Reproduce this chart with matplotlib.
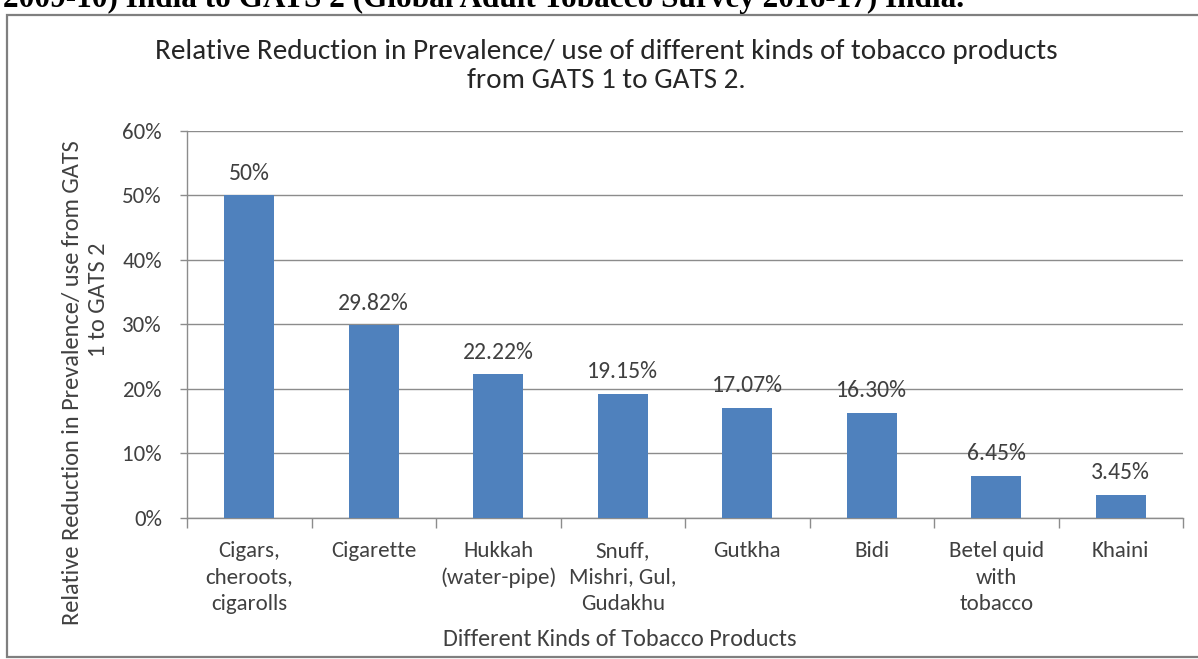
import matplotlib
matplotlib.use("Agg")
import matplotlib.pyplot as plt
from matplotlib import font_manager
from matplotlib.patches import Rectangle
from matplotlib.ticker import FixedLocator, PercentFormatter

categories = [
    "Cigars,\ncheroots,\ncigarolls",
    "Cigarette",
    "Hukkah\n(water-pipe)",
    "Snuff,\nMishri, Gul,\nGudakhu",
    "Gutkha",
    "Bidi",
    "Betel quid\nwith\ntobacco",
    "Khaini",
]
value_labels = ["50%", "29.82%", "22.22%", "19.15%", "17.07%", "16.30%", "6.45%", "3.45%"]
values = [float(s.rstrip("%")) for s in value_labels]
y_ticks = [0, 10, 20, 30, 40, 50, 60]

title = ("Relative Reduction in Prevalence/ use of different kinds of tobacco products\n"
         "from GATS 1 to GATS 2.")
header = "2009-10) India to GATS 2 (Global Adult Tobacco Survey 2016-17) India."
ylabel_lines = ["Relative Reduction in Prevalence/ use from GATS", "1 to GATS 2"]
xlabel = "Different Kinds of Tobacco Products"

# Calibri-like sans if present, otherwise the closest installed humanist face
installed = {f.name for f in font_manager.fontManager.ttflist}
sans = next(n for n in ["Carlito", "Lato", "DejaVu Sans"] if n in installed)
plt.rcParams["font.family"] = sans

BAR = "#4f81bd"
GRID = "#8c8c8c"
TEXT = "#404040"
FS = 16.5

W, H = 1198, 659
fig = plt.figure(figsize=(W / 100, H / 100), dpi=100, facecolor="white")

# chart frame, running off the right edge of the page
fig.patches.append(Rectangle((7 / W, 2 / H), 1.2, (657 - 15) / H, transform=fig.transFigure,
                             facecolor="white", edgecolor="#7f7f7f", linewidth=1.6, zorder=-1))
# tail of the document line above the chart
fig.text(3 / W, 1 - 7 / H, header, family="Liberation Serif", weight="bold",
         fontsize=22.5, color="black", va="baseline", ha="left")

ax = fig.add_axes([187 / W, 1 - 517.5 / H, (1183 - 187) / W, (517.5 - 131) / H])
ax.set_zorder(2)
ax.patch.set_alpha(0)
x = list(range(len(categories)))
ax.bar(x, values, width=0.4, color=BAR, zorder=3)

for xi, v, s in zip(x, values, value_labels):
    ax.annotate(s, (xi, v), xytext=(0, 8.5), textcoords="offset points",
                ha="center", va="bottom", fontsize=FS + 0.5, color=TEXT, zorder=4)

ax.set_xlim(-0.5, len(categories) - 0.5)
ax.set_ylim(0, 60)
ax.yaxis.set_major_locator(FixedLocator(y_ticks))
ax.yaxis.set_major_formatter(PercentFormatter(decimals=0))
ax.grid(axis="y", color=GRID, linewidth=1.0, zorder=0)
ax.set_axisbelow(True)

ax.set_xticks(x)
ax.set_xticklabels(categories, fontsize=FS, color=TEXT, linespacing=1.4)
ax.set_xticks([i - 0.5 for i in range(len(categories) + 1)], minor=True)
ax.tick_params(axis="x", which="major", length=0, pad=17)
ax.tick_params(axis="x", which="minor", length=7, width=1, color=GRID, direction="out")
ax.tick_params(axis="y", length=5, width=1, color=GRID, pad=13, labelsize=FS, labelcolor=TEXT)

for side in ("top", "right"):
    ax.spines[side].set_visible(False)
for side in ("left", "bottom"):
    ax.spines[side].set_color(GRID)
    ax.spines[side].set_linewidth(1.0)

fig.text(606 / W, 1 - 66 / H, title, ha="center", va="center", fontsize=21,
         color="#262626", linespacing=1.22)
fig.text(73 / W, 1 - 383 / H, ylabel_lines[0], rotation=90, ha="center", va="center",
         fontsize=17.6, color=TEXT)
fig.text(98 / W, 1 - 300 / H, ylabel_lines[1], rotation=90, ha="center", va="center",
         fontsize=17.6, color=TEXT)
fig.text(620 / W, 1 - 640 / H, xlabel, ha="center", va="center", fontsize=17.5, color=TEXT)

fig.savefig("out.png", dpi=100, facecolor="white")
